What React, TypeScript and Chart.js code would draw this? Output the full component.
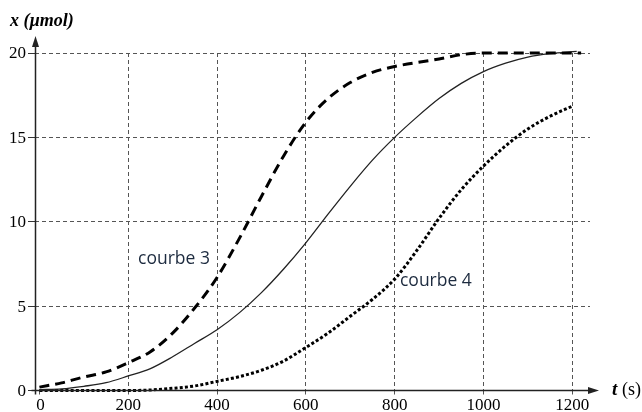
import React, { useEffect, useRef } from "react";
import { Chart, registerables } from "chart.js";

Chart.register(...registerables);

// time values (s) and amounts (µmol)
const t3 = [0, 50, 100, 150, 200, 250, 300, 350, 400, 450, 500, 550, 600, 650, 700, 750, 800, 900, 950, 1000, 1100, 1220];
const x3 = [0.2, 0.45, 0.8, 1.1, 1.65, 2.3, 3.4, 4.9, 6.7, 9.0, 11.5, 13.9, 15.9, 17.3, 18.25, 18.85, 19.2, 19.65, 19.9, 20.0, 20.0, 20.0];

const tMid = [0, 50, 100, 150, 200, 250, 300, 350, 400, 450, 500, 550, 600, 650, 700, 750, 800, 850, 900, 950, 1000, 1050, 1100, 1150, 1210];
const xMid = [0.05, 0.1, 0.25, 0.46, 0.86, 1.3, 2.0, 2.8, 3.6, 4.6, 5.8, 7.2, 8.75, 10.45, 12.1, 13.65, 15.0, 16.2, 17.3, 18.2, 18.9, 19.4, 19.76, 19.96, 20.1];

const t4 = [0, 100, 200, 250, 300, 350, 400, 450, 500, 550, 600, 650, 700, 750, 800, 850, 900, 950, 1000, 1050, 1100, 1150, 1200];
const x4 = [0, 0, 0, 0.03, 0.13, 0.27, 0.54, 0.82, 1.2, 1.75, 2.55, 3.4, 4.4, 5.4, 6.6, 8.3, 10.2, 11.9, 13.3, 14.5, 15.5, 16.25, 16.85];

const xTicks = [0, 200, 400, 600, 800, 1000, 1200];
const yTicks = [0, 5, 10, 15, 20];

const curveLabels = [
  { text: "courbe 3", t: 222, v: 7.8 },
  { text: "courbe 4", t: 812, v: 6.5 },
];

const pts = (ts: number[], vs: number[]) => ts.map((t, i) => ({ x: t, y: vs[i] }));

const overlay = {
  id: "overlay",
  afterDraw(chart: any) {
    const ctx = chart.ctx;
    const xs = chart.scales.x;
    const ys = chart.scales.y;
    const area = chart.chartArea;
    const ax = area.left + 0.5;
    const ay = ys.getPixelForValue(0);
    ctx.save();
    ctx.strokeStyle = "#222";
    ctx.fillStyle = "#222";
    ctx.lineWidth = 1.5;
    ctx.setLineDash([]);
    // y axis
    ctx.beginPath();
    ctx.moveTo(ax, ay + 4);
    ctx.lineTo(ax, 44);
    ctx.stroke();
    ctx.beginPath();
    ctx.moveTo(ax, 36);
    ctx.lineTo(ax - 3.5, 47);
    ctx.lineTo(ax + 3.5, 47);
    ctx.closePath();
    ctx.fill();
    // x axis
    ctx.beginPath();
    ctx.moveTo(ax - 4, ay);
    ctx.lineTo(590, ay);
    ctx.stroke();
    ctx.beginPath();
    ctx.moveTo(599, ay);
    ctx.lineTo(588, ay - 3.5);
    ctx.lineTo(588, ay + 3.5);
    ctx.closePath();
    ctx.fill();

    // tick labels (serif)
    ctx.fillStyle = "#000";
    ctx.font = "17px 'Liberation Serif', 'Times New Roman', serif";
    ctx.textAlign = "center";
    ctx.textBaseline = "alphabetic";
    for (const v of xTicks) {
      ctx.fillText(String(v), xs.getPixelForValue(v) + (v === 0 ? 1 : 0), 410);
    }
    ctx.textAlign = "right";
    ctx.textBaseline = "middle";
    for (const v of yTicks) {
      ctx.fillText(String(v), 26, ys.getPixelForValue(v) + 1);
    }

    // axis titles
    ctx.textBaseline = "middle";
    ctx.textAlign = "left";
    ctx.font = "italic bold 18px 'Liberation Serif'";
    ctx.fillText("x (µmol)", 10, 21);
    ctx.font = "italic bold 19px 'Liberation Serif'";
    ctx.fillText("t", 612, ay);
    const tw = ctx.measureText("t ").width;
    ctx.font = "18px 'Liberation Serif'";
    ctx.fillText("(s)", 612 + tw, ay);

    // curve labels
    ctx.fillStyle = "#1d2b3f";
    ctx.font = "17.5px 'Open Sans'";
    for (const l of curveLabels) {
      ctx.fillText(l.text, xs.getPixelForValue(l.t), ys.getPixelForValue(l.v));
    }
    ctx.restore();
  },
};

export default function App() {
  const ref = useRef<HTMLCanvasElement>(null);
  useEffect(() => {
    const chart = new Chart(ref.current!, {
      type: "line",
      data: {
        datasets: [
          {
            data: pts(t3, x3),
            borderColor: "#000",
            borderWidth: 3,
            borderDash: [10, 6],
            pointRadius: 0,
            cubicInterpolationMode: "monotone",
            clip: false,
          } as any,
          {
            data: pts(tMid, xMid),
            borderColor: "#222",
            borderWidth: 1.3,
            pointRadius: 0,
            cubicInterpolationMode: "monotone",
            clip: false,
          },
          {
            data: pts(t4, x4),
            borderColor: "#000",
            borderWidth: 3,
            borderDash: [3, 2.2],
            pointRadius: 0,
            cubicInterpolationMode: "monotone",
            clip: false,
          },
        ],
      },
      options: {
        animation: false,
        responsive: false,
        layout: { padding: { top: 53, right: 52, left: 0, bottom: 0 } },
        plugins: { legend: { display: false }, tooltip: { enabled: false } },
        scales: {
          x: {
            type: "linear",
            min: -10,
            max: 1240,
            afterBuildTicks: (s: any) => {
              s.ticks = xTicks.map((v) => ({ value: v }));
            },
            afterFit: (s: any) => {
              s.height = 21.5;
            },
            grid: {
              color: (c: any) => (c.tick && c.tick.value === 0 ? "transparent" : "#555"),
              tickColor: "#555",
              tickLength: 4,
              lineWidth: 1,
            },
            border: { display: false, dash: [4, 3] },
            ticks: { display: false },
          },
          y: {
            type: "linear",
            min: 0,
            max: 20,
            afterBuildTicks: (s: any) => {
              s.ticks = yTicks.map((v) => ({ value: v }));
            },
            afterFit: (s: any) => {
              s.width = 35;
            },
            grid: {
              color: (c: any) => (c.tick && c.tick.value === 0 ? "transparent" : "#555"),
              tickColor: "#333",
              tickLength: 7,
              lineWidth: 1,
            },
            border: { display: false, dash: [4, 3] },
            ticks: { display: false },
          },
        },
      },
      plugins: [overlay],
    } as any);
    return () => chart.destroy();
  }, []);
  return (
    <div style={{ position: "fixed", left: 0, top: 0, width: 642, height: 412, background: "#fff" }}>
      <canvas ref={ref} width={642} height={412} />
    </div>
  );
}
